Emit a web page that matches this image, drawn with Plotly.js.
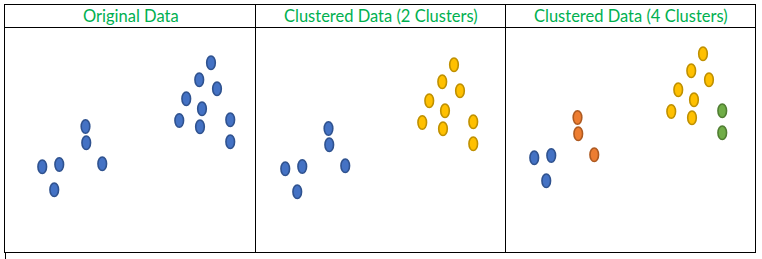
<!DOCTYPE html>
<html>
<head>
<meta charset="utf-8">
<script src="https://cdn.plot.ly/plotly-3.0.1.min.js"></script>
<style>
  html, body { margin: 0; padding: 0; background: #ffffff; }
  #chart { width: 762px; height: 259px; }
</style>
</head>
<body>
<div id="chart"></div>
<script>
// ---- data (same 15 points in every panel) ----
const xVals = [1.53, 2.21, 2.01, 3.26, 3.29, 3.93, 7.01, 7.29, 7.81, 8.28, 8.52, 7.92, 7.84, 9.05, 9.05];
const yVals = [3.41, 3.50, 2.49, 5.02, 4.37, 3.53, 5.26, 6.13, 6.89, 7.57, 6.53, 5.73, 5.01, 5.29, 4.41];
const labelsOriginal = [0, 0, 0, 0, 0, 0, 0, 0, 0, 0, 0, 0, 0, 0, 0];
const labels2 = [0, 0, 0, 0, 0, 0, 1, 1, 1, 1, 1, 1, 1, 1, 1];
const labels4 = [0, 0, 0, 2, 2, 2, 1, 1, 1, 1, 1, 1, 1, 3, 3];
const panelTitles = ["Original Data", "Clustered Data (2 Clusters)", "Clustered Data (4 Clusters)"];

// ---- styles ----
const fillColors = ["#4472C4", "#FFC000", "#ED7D31", "#70AD47"];
const lineColors = ["#2F528F", "#BF9000", "#AE5A21", "#507E32"];
const W = 762, H = 259;
const px = v => v / W;
const py = v => 1 - v / H;

const panels = [
  { labels: labelsOriginal, xd: [4, 255],   xr: [0, 10.04],    yr: [0, 9],        cx: 130.5 },
  { labels: labels2,        xd: [255, 505], xr: [0.32, 10.32], yr: [0.08, 9.08],  cx: 380.5 },
  { labels: labels4,        xd: [505, 756], xr: [0.36, 10.40], yr: [-0.36, 8.64], cx: 631 }
];

const traces = [];
const shapes = [];
const annotations = [];
const layout = {
  width: W, height: H,
  margin: { l: 0, r: 0, t: 0, b: 0, pad: 0 },
  paper_bgcolor: "#ffffff",
  plot_bgcolor: "rgba(0,0,0,0)",
  showlegend: false,
  hovermode: "closest"
};

panels.forEach((p, i) => {
  const n = i + 1;
  const xa = "x" + (n === 1 ? "" : n);
  const ya = "y" + (n === 1 ? "" : n);
  const axCommon = { showgrid: false, zeroline: false, showticklabels: false, showline: false, ticks: "", fixedrange: true };
  layout["xaxis" + (n === 1 ? "" : n)] = Object.assign({}, axCommon, { domain: [px(p.xd[0]), px(p.xd[1])], range: p.xr, anchor: ya });
  layout["yaxis" + (n === 1 ? "" : n)] = Object.assign({}, axCommon, { domain: [py(252), py(27)], range: p.yr, anchor: xa });

  // group by cluster
  const clusters = [...new Set(p.labels)];
  clusters.forEach(c => {
    const xs = [], ys = [];
    p.labels.forEach((l, k) => { if (l === c) { xs.push(xVals[k]); ys.push(yVals[k]); } });
    traces.push({
      type: "scatter", mode: "markers", x: xs, y: ys, xaxis: xa, yaxis: ya,
      marker: { size: 8, color: fillColors[c], line: { width: 0 } },
      cliponaxis: false, hoverinfo: "x+y"
    });
    // elliptical glyphs anchored to the data points
    xs.forEach((xv, k) => {
      shapes.push({
        type: "circle", xref: xa, yref: ya,
        xsizemode: "pixel", ysizemode: "pixel",
        xanchor: xv, yanchor: ys[k],
        x0: -4.3, x1: 4.3, y0: -6.8, y1: 6.8,
        fillcolor: fillColors[c],
        line: { color: lineColors[c], width: 1.6 },
        layer: "above"
      });
    });
  });

  annotations.push({
    xref: "paper", yref: "paper", x: px(p.cx), y: py(16.5), xanchor: "center", yanchor: "middle",
    text: panelTitles[i], showarrow: false,
    font: { family: "Lato, 'Noto Sans', sans-serif", size: 16.5, color: "#00B050" }
  });
});

// table borders
const hLine = (y, x0, x1) => ({ type: "line", xref: "paper", yref: "paper", x0: px(x0), x1: px(x1), y0: py(y), y1: py(y), line: { color: "#000000", width: 1 } });
const vLine = (x, y0, y1) => ({ type: "line", xref: "paper", yref: "paper", x0: px(x), x1: px(x), y0: py(y0), y1: py(y1), line: { color: "#000000", width: 1 } });
shapes.push(hLine(4.5, 4, 756));
shapes.push(hLine(27.5, 4, 756));
shapes.push(hLine(252.5, 4, 756));
shapes.push(vLine(4.5, 4, 253));
shapes.push(vLine(255.5, 4, 253));
shapes.push(vLine(505.5, 4, 253));
shapes.push(vLine(755.5, 4, 253));
shapes.push(vLine(5.5, 253, 259));

layout.shapes = shapes;
layout.annotations = annotations;

Plotly.newPlot("chart", traces, layout, { displayModeBar: false, staticPlot: true });
</script>
</body>
</html>
